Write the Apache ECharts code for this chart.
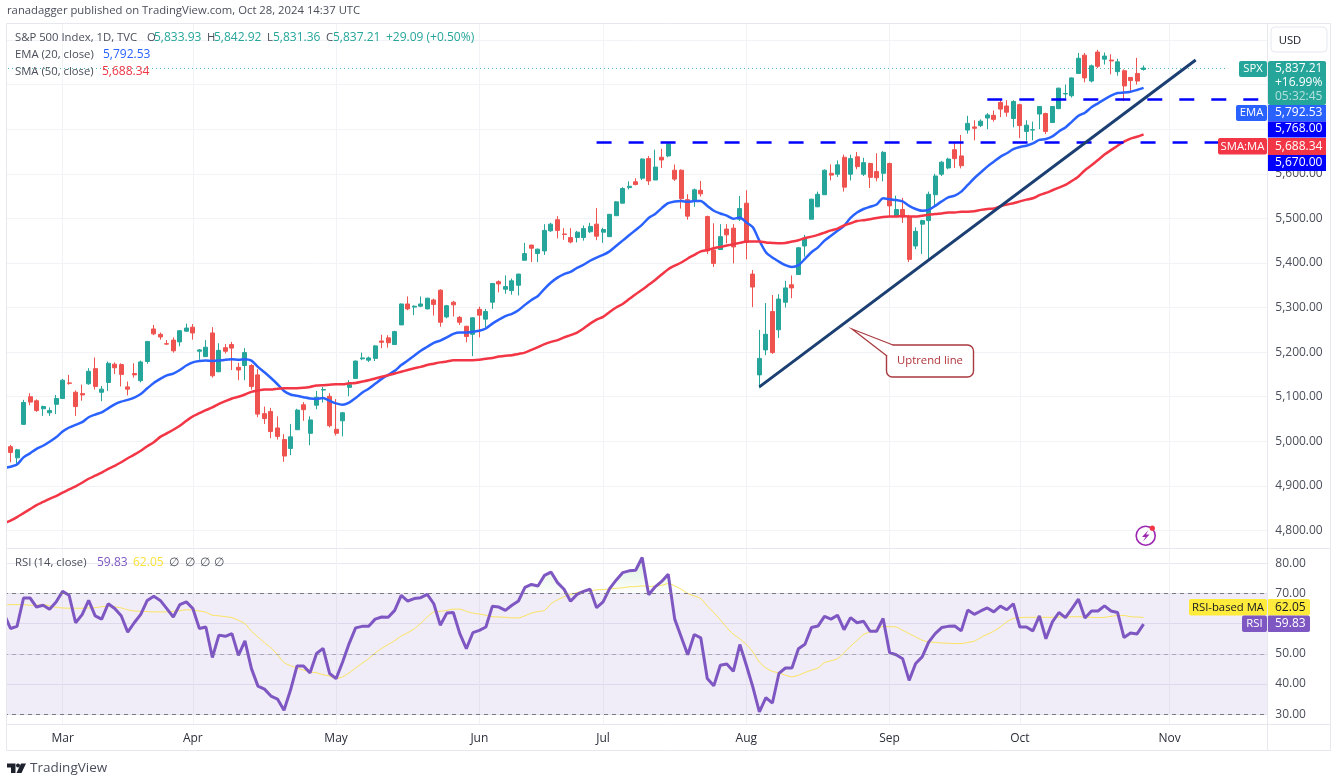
<!DOCTYPE html>
<html>
<head>
<meta charset="utf-8">
<title>S&amp;P 500 Index</title>
<script src="https://cdn.jsdelivr.net/npm/echarts@6/dist/echarts.min.js"></script>
<style>
  html, body { margin: 0; padding: 0; background: #fff; }
  #main { width: 1337px; height: 779px; }
</style>
</head>
<body>
<div id="main"></div>
<script>
// daily bars from 20 Feb to 28 Oct 2024
const opens = [
  4988,4963,5038,5100,5091,5073,5064,5083,5096,5131,
  5110,5107,5129,5163,5110,5132,5173,5172,5122,5152,
  5136,5179,5252,5240,5219,5227,5223,5247,5256,5202,
  5190,5243,5156,5210,5217,5166,5170,5170,5149,5062,
  5067,5030,5004,4984,5026,5082,5018,5081,5115,5101,
  5027,5046,5121,5141,5185,5182,5186,5225,5232,5217,
  5261,5308,5301,5303,5297,5317,5339,5279,5312,5278,
  5258,5240,5296,5274,5312,5358,5341,5338,5350,5406,
  5440,5421,5427,5472,5497,5465,5457,5457,5457,5470,
  5487,5469,5459,5506,5534,5569,5582,5590,5634,5586,
  5637,5640,5608,5608,5542,5541,5563,5504,5429,5430,
  5476,5478,5498,5534,5375,5149,5205,5291,5250,5312,
  5351,5374,5438,5498,5526,5553,5601,5599,5637,5599,
  5638,5599,5623,5605,5601,5623,5504,5520,5504,5438,
  5487,5495,5553,5599,5613,5654,5640,5698,5705,5708,
  5725,5731,5760,5752,5724,5755,5695,5698,5734,5735,
  5715,5746,5779,5775,5825,5866,5808,5873,5857,5855,
  5829,5831,5816,5825,5833.93
];
const closes = [
  4975,4981,5087,5088,5069,5078,5069,5096,5137,5130,
  5078,5104,5157,5123,5117,5175,5165,5150,5117,5149,
  5178,5224,5241,5234,5218,5203,5248,5254,5243,5205,
  5211,5147,5204,5202,5209,5160,5199,5123,5061,5051,
  5022,5011,4967,5010,5070,5071,5048,5099,5116,5035,
  5018,5064,5127,5180,5187,5187,5214,5222,5221,5246,
  5308,5297,5303,5308,5321,5307,5267,5304,5306,5267,
  5235,5277,5283,5291,5354,5353,5347,5360,5375,5421,
  5433,5431,5473,5487,5473,5464,5447,5469,5477,5482,
  5460,5475,5509,5537,5567,5572,5576,5633,5584,5615,
  5631,5667,5588,5544,5505,5564,5555,5427,5399,5459,
  5463,5436,5522,5446,5346,5186,5240,5199,5319,5344,
  5344,5434,5455,5543,5554,5608,5597,5620,5570,5634,
  5616,5625,5592,5591,5648,5528,5520,5503,5408,5471,
  5495,5554,5595,5626,5633,5634,5618,5713,5702,5718,
  5732,5722,5745,5738,5762,5708,5709,5699,5751,5695,
  5751,5792,5780,5815,5859,5815,5842,5841,5864,5853,
  5851,5797,5809,5808,5837.21
];
const highs = [
  4992,4983,5093,5108,5094,5080,5076,5104,5140,5149,
  5114,5127,5164,5188,5124,5179,5177,5175,5134,5175,
  5181,5224,5261,5244,5227,5233,5249,5264,5263,5207,
  5227,5256,5220,5218,5223,5176,5209,5173,5162,5078,
  5075,5056,5016,5039,5073,5088,5056,5113,5122,5108,
  5095,5066,5137,5181,5199,5190,5216,5239,5238,5248,
  5309,5325,5305,5325,5322,5320,5341,5306,5315,5281,
  5259,5278,5302,5297,5355,5361,5372,5365,5376,5445,
  5441,5432,5487,5490,5505,5478,5478,5472,5484,5490,
  5523,5479,5510,5539,5570,5583,5590,5635,5640,5654,
  5656,5668,5621,5610,5554,5567,5584,5506,5489,5487,
  5487,5487,5550,5563,5384,5250,5310,5328,5330,5360,
  5372,5436,5463,5544,5560,5610,5621,5630,5643,5643,
  5649,5636,5625,5646,5651,5625,5551,5546,5508,5480,
  5497,5560,5600,5629,5636,5670,5687,5730,5720,5722,
  5736,5742,5767,5765,5765,5757,5720,5717,5752,5737,
  5752,5793,5800,5816,5871,5871,5845,5878,5872,5868,
  5858,5834,5817,5860,5842.92
];
const lows = [
  4953,4949,5037,5081,5066,5057,5057,5061,5096,5127,
  5057,5091,5127,5116,5090,5113,5151,5123,5103,5143,
  5132,5174,5238,5228,5216,5199,5213,5246,5228,5183,
  5190,5143,5155,5197,5160,5137,5137,5116,5054,5039,
  5007,5004,4954,4969,5026,5046,4991,5072,5087,5031,
  5013,5011,5101,5141,5182,5178,5180,5209,5210,5217,
  5261,5294,5283,5301,5296,5282,5257,5276,5280,5261,
  5222,5191,5233,5255,5297,5334,5331,5329,5327,5406,
  5402,5402,5418,5470,5455,5452,5444,5446,5450,5467,
  5451,5445,5458,5506,5534,5565,5574,5586,5575,5586,
  5613,5637,5584,5522,5497,5526,5549,5420,5391,5430,
  5444,5399,5494,5408,5301,5119,5193,5196,5232,5300,
  5321,5374,5414,5498,5525,5553,5585,5593,5560,5585,
  5610,5595,5568,5583,5583,5504,5503,5490,5402,5431,
  5420,5406,5530,5595,5610,5613,5612,5690,5675,5705,
  5700,5717,5727,5728,5704,5680,5674,5675,5700,5689,
  5714,5745,5770,5771,5824,5805,5805,5837,5845,5823,
  5820,5763,5785,5800,5831.36
];

// the lines start one bar earlier (16 Feb), the picture cuts that bar off
const ema20 = [4940,
  4943,4948,4964,4973,4983,4990,4999,5009,5022,5031,
  5037,5043,5054,5060,5065,5074,5083,5089,5093,5098,
  5106,5119,5131,5140,5148,5152,5160,5170,5177,5180,
  5181,5180,5181,5183,5184,5183,5184,5181,5167,5155,
  5142,5128,5113,5105,5102,5099,5096,5095,5097,5091,
  5085,5082,5087,5097,5109,5118,5129,5140,5149,5158,
  5171,5181,5192,5203,5212,5221,5226,5233,5241,5244,
  5244,5246,5248,5253,5264,5273,5281,5286,5294,5306,
  5317,5326,5342,5356,5367,5375,5380,5389,5396,5405,
  5412,5418,5426,5438,5450,5462,5474,5486,5501,5510,
  5523,5534,5538,5539,5537,5539,5539,5528,5517,5511,
  5506,5499,5502,5491,5480,5450,5424,5412,5403,5395,
  5391,5395,5409,5424,5435,5450,5461,5472,5483,5501,
  5513,5521,5526,5531,5545,5543,5541,5538,5528,5521,
  5517,5519,5528,5538,5547,5551,5560,5575,5590,5603,
  5616,5627,5638,5646,5655,5660,5663,5668,5676,5678,
  5684,5695,5704,5717,5730,5737,5749,5758,5767,5775,
  5781,5782,5784,5788,5792.53
];
const sma50 = [4816,
  4822,4830,4839,4848,4857,4864,4871,4877,4885,4892,
  4899,4907,4916,4923,4930,4938,4945,4953,4962,4970,
  4979,4989,4998,5010,5018,5026,5035,5046,5056,5063,
  5070,5076,5084,5090,5096,5100,5105,5111,5114,5116,
  5116,5118,5119,5119,5119,5120,5122,5125,5126,5127,
  5128,5128,5130,5131,5134,5137,5141,5145,5148,5152,
  5156,5160,5164,5167,5171,5174,5177,5179,5182,5182,
  5182,5182,5183,5185,5187,5190,5192,5193,5196,5199,
  5205,5211,5218,5223,5227,5233,5238,5244,5253,5264,
  5273,5279,5290,5300,5308,5319,5330,5340,5351,5362,
  5374,5386,5394,5401,5410,5418,5426,5429,5433,5436,
  5439,5442,5445,5448,5448,5448,5446,5445,5444,5445,
  5448,5451,5456,5459,5463,5468,5473,5477,5484,5489,
  5494,5496,5498,5501,5503,5504,5504,5505,5504,5504,
  5506,5508,5510,5511,5513,5513,5515,5515,5516,5519,
  5521,5522,5527,5531,5534,5538,5542,5545,5552,5557,
  5563,5569,5575,5584,5594,5608,5619,5631,5643,5653,
  5663,5672,5679,5683,5688.34
];
const rsi = [63.3,
  58.4,59.1,68.5,68.5,65.5,66.1,64.8,67.2,70.7,69.4,
  60.3,63.0,67.7,62.6,61.5,66.6,65.0,62.6,57.2,60.3,
  63.1,67.7,69.1,67.7,65.0,62.2,66.3,67.2,65.0,58.4,
  58.9,48.8,56.2,55.8,56.7,49.5,54.3,45.1,39.3,38.3,
  36.0,35.0,31.3,38.0,46.0,46.0,43.7,50.1,51.8,43.5,
  41.8,47.3,53.4,58.6,59.1,59.1,61.5,62.2,62.1,64.4,
  69.4,67.5,68.3,68.6,69.7,66.6,59.5,63.5,63.7,56.7,
  51.7,57.0,57.8,58.9,65.8,65.5,64.4,66.1,67.5,72.0,
  73.0,72.5,76.0,77.1,73.6,71.4,67.4,69.7,70.7,71.4,
  65.3,67.2,71.6,74.4,76.9,77.5,77.7,81.9,69.6,72.2,
  74.0,76.4,61.5,55.6,49.7,56.4,55.3,41.8,39.4,46.2,
  46.6,44.2,53.1,46.2,39.0,30.8,35.5,33.7,43.5,45.3,
  45.3,51.7,53.2,58.7,59.2,62.4,61.5,62.8,58.0,62.0,
  60.3,60.8,57.5,57.5,61.7,50.4,49.7,48.4,41.2,46.8,
  49.0,53.9,56.7,58.7,59.1,59.2,57.6,64.5,63.1,64.2,
  65.2,63.9,65.8,64.6,66.6,58.9,58.9,57.6,62.6,55.0,
  60.6,63.7,62.0,65.0,68.1,61.9,64.2,64.2,65.9,64.2,
  63.7,55.4,56.9,56.6,59.83
];
const rsiMa = [66.3,
  66.3,66.3,66.3,66.1,66.1,66.3,65.9,65.4,65.2,65.1,
  65.1,65.1,65.2,65.3,65.6,65.8,65.6,65.2,64.6,64.2,
  64.1,64.0,63.9,63.9,63.9,64.1,64.3,64.6,64.5,64.2,
  63.8,62.8,62.6,62.3,62.0,61.1,60.0,57.5,55.6,53.7,
  52.0,49.7,47.1,46.1,45.3,44.6,44.0,43.7,43.1,42.6,
  41.8,42.4,43.7,45.3,46.9,48.4,50.3,51.8,53.1,54.4,
  55.9,57.0,58.3,60.1,62.2,63.9,64.1,64.4,64.8,64.8,
  64.1,63.5,63.2,62.8,62.3,62.2,62.1,61.9,61.9,62.6,
  63.5,64.0,64.4,66.6,67.9,68.9,69.6,70.3,70.8,70.9,
  71.2,71.3,71.5,71.7,71.9,72.2,72.3,72.5,72.3,72.5,
  72.7,73.3,72.5,71.4,70.0,69.2,68.3,65.9,63.7,61.3,
  58.7,56.5,55.0,53.1,50.6,47.3,45.3,44.2,43.7,42.9,
  42.4,42.9,43.8,44.6,45.3,47.1,47.7,48.4,50.4,52.5,
  54.5,56.4,57.3,58.1,59.1,59.0,58.9,57.8,56.7,55.6,
  54.5,54.0,53.8,53.6,53.5,53.4,53.4,53.8,54.2,55.4,
  56.5,57.5,58.9,60.6,61.7,62.0,62.1,62.1,62.1,62.1,
  62.1,62.2,62.2,62.3,62.3,62.2,62.1,62.0,62.1,62.4,
  62.7,62.7,62.3,62.2,62.05
];

const holidays = ['2024-02-19','2024-03-29','2024-05-27','2024-06-19','2024-07-04','2024-09-02'];
const barCount = 195;
const monthNames = ['Jan','Feb','Mar','Apr','May','Jun','Jul','Aug','Sep','Oct','Nov','Dec'];

const support = 5670, resistance = 5768, lastClose = 5837.21;
const priceTicks = { min: 4800, max: 5900, step: 100 };

// weekdays only, the axis keeps running past the last bar into November
const categories = [];
for (let d = new Date(Date.UTC(2024, 1, 16)); categories.length < barCount; d = new Date(d.getTime() + 864e5)) {
  const iso = d.toISOString().slice(0, 10);
  if (d.getUTCDay() % 6 !== 0 && holidays.indexOf(iso) < 0) categories.push(iso);
}
const isMonthStart = (i) => i > 0 && categories[i].slice(5, 7) !== categories[i - 1].slice(5, 7);
const monthLabel = (v) => monthNames[+v.slice(5, 7) - 1];
const money = (v) => v.toLocaleString('en-US', { minimumFractionDigits: 2, maximumFractionDigits: 2 });

const candles = [['-', '-', '-', '-']].concat(opens.map((o, i) => [o, closes[i], lows[i], highs[i]]));
const overbought = rsi.map((v) => Math.max(v, 70));

const FONT = '"Open Sans", "Noto Sans", sans-serif';
const UP = '#26a69a', DOWN = '#ef5350', EMA = '#2962ff', SMA = '#f23645', LEVEL = '#0000ff';
const PURPLE = '#7e57c2', YELLOW = '#ffeb3b', GRID = '#f2f3f6', FRAME = '#e6e8ee', TEXT = '#4a4e5a';

// numbers keep 12px, words run a little narrower in the reference
function label(x, y, text, fill, extra) {
  return { type: 'text', x: x, y: y, z: 60, silent: true,
    style: Object.assign({ text: text, fill: fill || TEXT, font: '12px ' + FONT, verticalAlign: 'middle' }, extra) };
}
function word(x, y, text, fill, extra) {
  return label(x, y, text, fill, Object.assign({ font: '11.3px ' + FONT }, extra));
}
function box(x, y, w, h, fill, r) {
  return { type: 'rect', z: 55, silent: true, shape: { x: x, y: y, width: w, height: h, r: r || 0 }, style: { fill: fill } };
}
function hline(x1, y1, x2, y2) {
  return { type: 'line', z: 58, silent: true, shape: { x1: x1, y1: y1, x2: x2, y2: y2 }, style: { stroke: FRAME, lineWidth: 1 } };
}

const chrome = [
  box(0, 20, 6, 706, '#fff'),
  hline(6.5, 23.5, 1330.5, 23.5),
  hline(6.5, 23.5, 6.5, 750.5),
  hline(6.5, 750.5, 1330.5, 750.5),
  hline(1330.5, 23.5, 1330.5, 750.5),
  hline(1267.5, 23.5, 1267.5, 750.5),
  hline(6.5, 548.5, 1330.5, 548.5),
  hline(6.5, 724.5, 1330.5, 724.5),

  word(7, 11, 'ranadagger published on TradingView.com, Oct 28, 2024 14:37 UTC'),
  word(15, 38, 'S&P 500 Index, 1D, TVC'),
  word(147, 38, 'O'), label(154, 38, '5,833.93', UP),
  word(207, 38, 'H'), label(214, 38, '5,842.92', UP),
  word(267, 38, 'L'), label(273, 38, '5,831.36', UP),
  word(326, 38, 'C'), label(333, 38, '5,837.21', UP),
  label(386, 38, '+29.09 (+0.50%)', UP),
  word(15, 55, 'EMA (20, close)'), label(103, 55, '5,792.53', EMA),
  word(15, 71.5, 'SMA (50, close)'), label(102, 71.5, '5,688.34', SMA),
  word(15, 563, 'RSI (14, close)'), label(97, 563, '59.83', PURPLE), label(133, 563, '62.05', '#f9e23a'),
  label(169, 563, '∅'), label(185, 563, '∅'), label(200, 563, '∅'), label(214, 563, '∅'),

  // USD button
  { type: 'rect', z: 55, silent: true, shape: { x: 1271, y: 27, width: 56, height: 25, r: 4 }, style: { fill: '#fff', stroke: FRAME, lineWidth: 1 } },
  word(1290, 41, 'USD', '#131722', { align: 'center' }),

  // price tags on the scale
  box(1239, 61, 28, 16, UP, 2), word(1253, 69, 'SPX', '#fff', { align: 'center' }),
  box(1268, 61, 58, 44, UP, 2),
  label(1275, 69, '5,837.21', '#fff'), label(1275, 83, '+16.99%', '#fff'), label(1275, 97, '05:32:45', 'rgba(255,255,255,0.65)'),
  box(1236, 105, 31, 16, EMA, 2), word(1251.5, 113, 'EMA', '#fff', { align: 'center' }),
  box(1268, 105, 58, 16.5, EMA), label(1275, 113, '5,792.53', '#fff'),
  box(1268, 121.5, 58, 16, LEVEL), label(1275, 129, '5,768.00', '#fff'),
  box(1218, 138, 49, 16.5, SMA, 2), word(1242.5, 146.5, 'SMA:MA', '#fff', { align: 'center' }),
  box(1268, 138, 58, 17, SMA), label(1275, 146.5, '5,688.34', '#fff'),
  box(1268, 155, 58, 16, LEVEL), label(1275, 162.5, '5,670.00', '#fff'),
  box(1189, 599, 78, 16.5, YELLOW, 2), word(1228, 607.5, 'RSI-based MA', '#131722', { align: 'center' }),
  box(1267, 599, 43, 16.5, YELLOW, 2), label(1275, 607.5, '62.05', '#131722'),
  box(1242, 615.5, 25, 16.5, PURPLE, 2), word(1254.5, 624, 'RSI', '#fff', { align: 'center' }),
  box(1267, 615.5, 43, 16.5, PURPLE, 2), label(1275, 624, '59.83', '#fff'),

  // uptrend callout
  { type: 'rect', z: 50, silent: true, shape: { x: 886.5, y: 345, width: 87, height: 32, r: 6 }, style: { fill: '#fff', stroke: '#a8393e', lineWidth: 1.4 } },
  { type: 'polygon', z: 51, silent: true, shape: { points: [[852, 329], [893, 345.5], [887, 356]] }, style: { fill: '#fff' } },
  { type: 'polyline', z: 52, silent: true, shape: { points: [[887, 356], [852, 329], [893, 345]] }, style: { stroke: '#a8393e', lineWidth: 1.2, fill: 'none' } },
  word(930, 361, 'Uptrend line', '#b0343a', { align: 'center' }),

  // snapshot badge
  { type: 'circle', z: 50, silent: true, shape: { cx: 1145.7, cy: 535.7, r: 9.5 }, style: { fill: '#fff', stroke: '#9c27b0', lineWidth: 1.6 } },
  { type: 'polygon', z: 51, silent: true, shape: { points: [[1148.5, 530], [1142, 537], [1145.5, 537], [1143, 541.5], [1149.5, 534.5], [1146, 534.5]] }, style: { fill: '#9c27b0' } },
  { type: 'circle', z: 52, silent: true, shape: { cx: 1152.3, cy: 528.2, r: 2.6 }, style: { fill: '#f23645' } },

  // TradingView mark
  { type: 'polygon', z: 50, silent: true, shape: { points: [[7, 763.5], [15.5, 763.5], [15.5, 773], [11, 773], [11, 767.5], [7, 767.5]] }, style: { fill: '#1e222d' } },
  { type: 'circle', z: 50, silent: true, shape: { cx: 18, cy: 765.5, r: 2 }, style: { fill: '#1e222d' } },
  { type: 'polygon', z: 50, silent: true, shape: { points: [[21, 763.5], [26, 763.5], [21.5, 773], [16.5, 773]] }, style: { fill: '#1e222d' } },
  label(30, 768, 'TradingView', TEXT, { font: '13.5px ' + FONT })
];

const levelStyle = { color: LEVEL, width: 2.6, type: [15, 17] };

const option = {
  animation: false,
  backgroundColor: '#fff',
  textStyle: { fontFamily: FONT },
  grid: [
    { left: 4, width: 1263.3, top: 40, height: 490.5 },
    { left: 4, width: 1263.3, top: 548.2, height: 166 },
    { left: 4, width: 1263.3, top: 24, height: 700 }
  ],
  xAxis: [
    { type: 'category', gridIndex: 0, data: categories, boundaryGap: false, show: false },
    { type: 'category', gridIndex: 1, data: categories, boundaryGap: false, show: false },
    {
      type: 'category', gridIndex: 2, data: categories, boundaryGap: false,
      axisLine: { show: false }, axisTick: { show: false },
      axisLabel: { interval: (i) => isMonthStart(i), formatter: monthLabel, color: '#2a2e39', fontSize: 12, fontFamily: FONT, margin: 9 },
      splitLine: { show: true, interval: (i) => isMonthStart(i), lineStyle: { color: GRID, width: 1 } }
    }
  ],
  yAxis: [
    {
      type: 'value', gridIndex: 0, position: 'right', min: priceTicks.min, max: priceTicks.max, interval: priceTicks.step,
      axisLine: { show: false }, axisTick: { show: false },
      axisLabel: { color: TEXT, fontSize: 12, fontFamily: FONT, margin: 8, formatter: (v) => (v > 5600 ? '' : money(v)) },
      splitLine: { lineStyle: { color: GRID, width: 1 } }
    },
    {
      type: 'value', gridIndex: 1, position: 'right', min: 30, max: 85, interval: 10,
      axisLine: { show: false }, axisTick: { show: false },
      axisLabel: { color: TEXT, fontSize: 12, fontFamily: FONT, margin: 8, formatter: (v) => (v > 80 ? '' : v.toFixed(2)) },
      splitLine: { lineStyle: { color: '#e9e8f1', width: 1 } }
    },
    { type: 'value', gridIndex: 2, min: 0, max: 1, show: false }
  ],
  series: [
    {
      name: 'SPX', type: 'candlestick', xAxisIndex: 0, yAxisIndex: 0, data: candles, barWidth: 4.5,
      itemStyle: { color: UP, color0: DOWN, borderColor: UP, borderColor0: DOWN, borderWidth: 1 }
    },
    {
      name: 'EMA 20', type: 'line', xAxisIndex: 0, yAxisIndex: 0, data: ema20, showSymbol: false, z: 3, smooth: 0.25,
      lineStyle: { color: EMA, width: 2.5 }, itemStyle: { color: EMA }
    },
    {
      name: 'SMA 50', type: 'line', xAxisIndex: 0, yAxisIndex: 0, data: sma50, showSymbol: false, z: 3, smooth: 0.25,
      lineStyle: { color: SMA, width: 2.5 }, itemStyle: { color: SMA },
      markLine: {
        silent: true, symbol: ['none', 'none'], animation: false, label: { show: false },
        data: [
          [{ coord: [0, lastClose], lineStyle: { color: UP, width: 1, type: [1, 3], opacity: 0.8 } }, { coord: [188, lastClose] }],
          [{ coord: [91, support], lineStyle: levelStyle }, { coord: [187, support] }],
          [{ coord: [151, resistance], lineStyle: levelStyle }, { coord: [193, resistance] }],
          [{ coord: [116, 5122], lineStyle: { color: '#1b3f72', width: 3, type: 'solid' } }, { coord: [183, 5855] }]
        ]
      }
    },
    {
      name: 'RSI band', type: 'line', xAxisIndex: 1, yAxisIndex: 1, data: overbought, showSymbol: false, z: 2,
      lineStyle: { width: 0 },
      areaStyle: {
        origin: 70,
        color: { type: 'linear', x: 0, y: 0, x2: 0, y2: 1, colorStops: [
          { offset: 0, color: 'rgba(76,175,80,0.28)' }, { offset: 1, color: 'rgba(76,175,80,0.02)' }
        ] }
      },
      markArea: {
        silent: true, itemStyle: { color: 'rgba(126,87,194,0.11)' },
        data: [[{ yAxis: 70 }, { yAxis: 30 }]]
      },
      markLine: {
        silent: true, symbol: ['none', 'none'], animation: false, label: { show: false },
        data: [
          { yAxis: 70, lineStyle: { color: '#787b86', width: 1, type: [4, 4] } },
          { yAxis: 50, lineStyle: { color: 'rgba(120,123,134,0.5)', width: 1, type: [4, 4] } },
          { yAxis: 30, lineStyle: { color: '#787b86', width: 1, type: [4, 4] } }
        ]
      }
    },
    {
      name: 'RSI-based MA', type: 'line', xAxisIndex: 1, yAxisIndex: 1, data: rsiMa, showSymbol: false, z: 3, smooth: 0.25,
      lineStyle: { color: '#fbe35a', width: 1 }, itemStyle: { color: '#fbe35a' }
    },
    {
      name: 'RSI', type: 'line', xAxisIndex: 1, yAxisIndex: 1, data: rsi, showSymbol: false, z: 4,
      lineStyle: { color: PURPLE, width: 3 }, itemStyle: { color: PURPLE }
    }
  ],
  graphic: { elements: chrome }
};

const myChart = echarts.init(document.getElementById('main'), null, { renderer: 'canvas' });
myChart.setOption(option);
</script>
</body>
</html>
